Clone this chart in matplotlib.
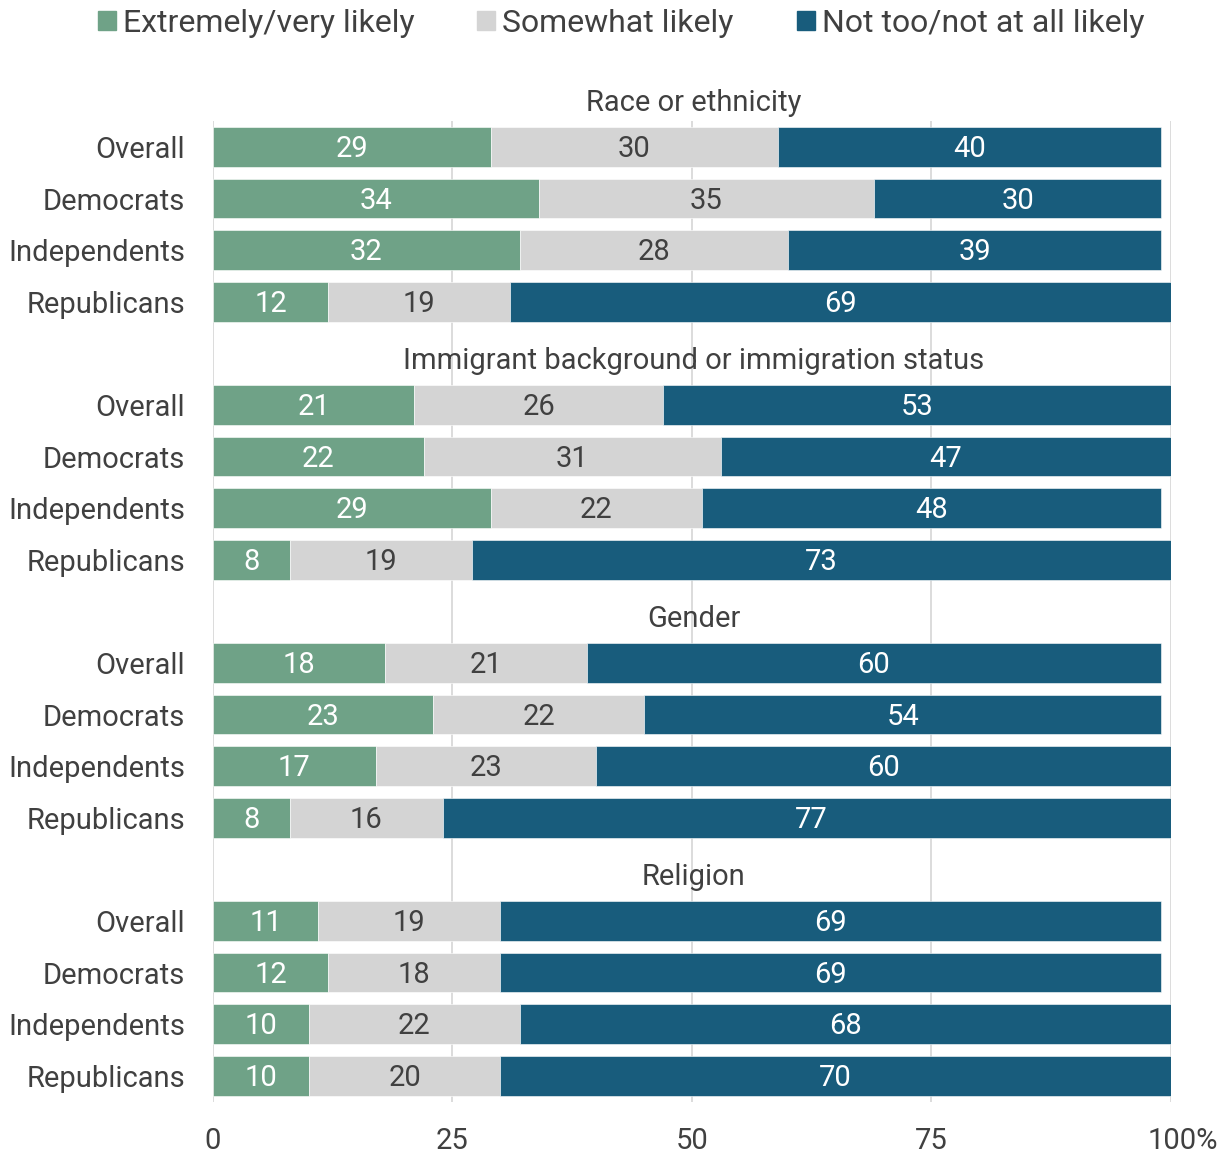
import matplotlib
matplotlib.use("Agg")
from matplotlib import pyplot as plt
from matplotlib.patches import Patch
from matplotlib.transforms import ScaledTranslation

plt.rcParams['font.family'] = ['Roboto', 'DejaVu Sans']

groups = ["Race or ethnicity", "Immigrant background or immigration status", "Gender", "Religion"]
rows = ["Overall", "Democrats", "Independents", "Republicans"]
likely = [29, 34, 32, 12, 21, 22, 29, 8, 18, 23, 17, 8, 11, 12, 10, 10]
somewhat = [30, 35, 28, 19, 26, 31, 22, 19, 21, 22, 23, 16, 19, 18, 22, 20]
not_likely = [40, 30, 39, 69, 53, 47, 48, 73, 60, 54, 60, 77, 69, 69, 68, 70]
series_names = ["Extremely/very likely", "Somewhat likely", "Not too/not at all likely"]
xticks = [0, 25, 50, 75, 100]
xticklabels = ["0", "25", "50", "75", "100%"]

GREEN = "#6fa287"
GRAY = "#d4d4d4"
BLUE = "#185c7c"
TXT = "#404040"
FS = 21

fig = plt.figure(figsize=(12.31, 11.53), dpi=100)
ax = fig.add_axes([0.1730, 0.0446, 0.7782, 0.8503])

# each group takes 5 slots: title slot then 4 rows
ypos = []
ylabels = []
for g in range(len(groups)):
    for r in range(len(rows)):
        ypos.append(g * 5 + 1 + r)
        ylabels.append(rows[r])

h = 0.77
left = [0] * len(ypos)
mid = [a + b for a, b in zip(likely, somewhat)]
ax.barh(ypos, likely, left=left, height=h, color=GREEN, edgecolor="white", linewidth=0.4, zorder=2)
ax.barh(ypos, somewhat, left=likely, height=h, color=GRAY, edgecolor="white", linewidth=0.4, zorder=2)
ax.barh(ypos, not_likely, left=mid, height=h, color=BLUE, edgecolor="white", linewidth=0.4, zorder=2)

dy = 0.04  # digits sit a bit high with va=center
for i, y in enumerate(ypos):
    ax.text(likely[i] / 2, y + dy, str(likely[i]), ha="center", va="center", color="white", fontsize=FS, zorder=3)
    ax.text(likely[i] + somewhat[i] / 2, y + dy, str(somewhat[i]), ha="center", va="center", color=TXT, fontsize=FS, zorder=3)
    ax.text(mid[i] + not_likely[i] / 2, y + dy, str(not_likely[i]), ha="center", va="center", color="white", fontsize=FS, zorder=3)

for g, name in enumerate(groups):
    ax.text(50.2, g * 5 + 0.15, name, ha="center", va="center", color=TXT, fontsize=FS, clip_on=False)

ax.set_xlim(0, 100)
ax.set_ylim(19.5, 0.5)
ax.set_yticks(ypos)
ax.set_yticklabels(ylabels)
ax.set_xticks(xticks)
ax.set_xticklabels(xticklabels)
ax.tick_params(axis="y", length=0, pad=20, labelsize=FS, labelcolor=TXT)
ax.tick_params(axis="x", length=0, pad=18, labelsize=FS, labelcolor=TXT)
for s in ax.spines.values():
    s.set_visible(False)
ax.grid(axis="x", color="#dcdcdc", linewidth=1.4, zorder=0)
ax.set_axisbelow(True)

# shift the "100%" so the number sits on the tick
lab = ax.get_xticklabels()[-1]
lab.set_transform(lab.get_transform() + ScaledTranslation(12 / 100, 0, fig.dpi_scale_trans))

handles = [Patch(color=c) for c in (GREEN, GRAY, BLUE)]
fig.legend(handles, series_names, loc="center", bbox_to_anchor=(0.5045, 0.980), ncol=3,
           frameon=False, fontsize=23, labelcolor=TXT, handlelength=0.56, handleheight=0.56,
           handletextpad=0.22, columnspacing=1.97, borderpad=0, borderaxespad=0)

fig.savefig("out.png", dpi=100)
